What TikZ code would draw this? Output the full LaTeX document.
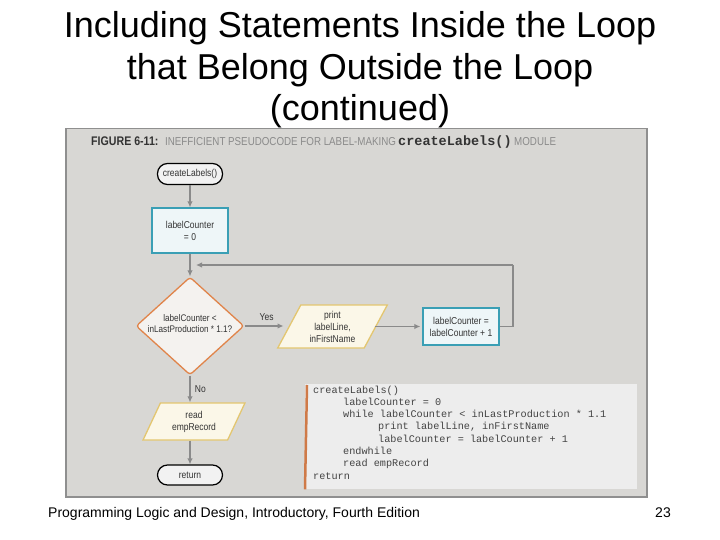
\documentclass[tikz,border=0pt]{standalone}
\usepackage{fontspec}
\setmainfont{Liberation Sans}
\setmonofont{Liberation Mono}
\newfontfamily\cond[FakeStretch=0.85]{Liberation Sans}
\usetikzlibrary{shapes.geometric,arrows.meta}
\definecolor{figbg}{HTML}{D8D7D4}
\definecolor{figedge}{HTML}{8F8F8F}
\definecolor{arrowgray}{HTML}{8A8A8A}
\definecolor{txtdark}{HTML}{333333}
\definecolor{codetxt}{HTML}{444444}
\definecolor{tealedge}{HTML}{3A9FB5}
\definecolor{tealfill}{HTML}{EEF6F8}
\definecolor{orangeedge}{HTML}{E0844A}
\definecolor{decfill}{HTML}{F4F2EF}
\definecolor{yellowedge}{HTML}{E3C670}
\definecolor{ioFill}{HTML}{FBF7E8}
\definecolor{codefill}{HTML}{EDEDED}
\definecolor{codebar}{HTML}{CF7A48}
\definecolor{capgray}{HTML}{8A8A8A}
\tikzset{
  flowtext/.style={font=\cond\fontsize{10}{12}\selectfont, text=txtdark, align=center},
  term/.style={flowtext, draw=black, line width=1.2pt, fill=white!95!black,
    rounded corners=10pt, minimum width=65pt, minimum height=21pt, inner sep=0pt},
  proc/.style={flowtext, draw=tealedge, line width=1.3pt, fill=tealfill, inner sep=0pt},
  dec/.style={draw=orangeedge, line width=1.3pt, fill=decfill, diamond, inner sep=0pt,
    rounded corners=3pt},
  io/.style={flowtext, draw=yellowedge, line width=1.3pt, fill=ioFill, trapezium,
    trapezium left angle=62, trapezium right angle=118, trapezium stretches=true, inner sep=0pt},
  arr/.style={draw=arrowgray, line width=1.2pt, -{Latex[length=6pt,width=5.5pt]}},
  lineonly/.style={draw=arrowgray, line width=1.2pt},
  codeline/.style={font=\ttfamily\fontsize{10.2}{12}\selectfont, text=codetxt, anchor=base west, inner sep=0pt},
  titleline/.style={font=\fontsize{36}{42}\selectfont, text=black, anchor=base, inner sep=0pt},
  footer/.style={font=\fontsize{14}{16}\selectfont, text=black, inner sep=0pt}
}
\begin{document}
\begin{tikzpicture}[x=1pt,y=-1pt]
\useasboundingbox (0,0) rectangle (720,540);
\fill[white] (0,0) rectangle (720,540);
% title
\node[titleline] (t1) at (360,38) {Including Statements Inside the Loop};
\node[titleline] (t2) at (360,80) {that Belong Outside the Loop};
\node[titleline] (t3) at (360,121) {(continued)};
% figure background
\node[draw=figedge, line width=1.5pt, fill=figbg, minimum width=581pt, minimum height=368pt,
  inner sep=0pt, anchor=north west] (fig) at (65,128) {};
% caption
\node[font=\cond\bfseries\fontsize{12.5}{14}\selectfont, text=txtdark, anchor=base west, inner sep=0pt] (capA) at (91,146) {FIGURE 6-11:};
\node[font=\cond\fontsize{11.5}{14}\selectfont, text=capgray, anchor=base west, inner sep=0pt] (capB) at (165,146) {INEFFICIENT PSEUDOCODE FOR LABEL-MAKING};
\node[font=\ttfamily\bfseries\fontsize{13.5}{14}\selectfont, text=txtdark, anchor=base west, inner sep=0pt] (capC) at (398,146) {createLabels()};
\node[font=\cond\fontsize{11.5}{14}\selectfont, text=capgray, anchor=base west, inner sep=0pt] (capD) at (514,146) {MODULE};
% flowchart
\node[term] (start) at (190,174) {createLabels()};
\node[proc, minimum width=76pt, minimum height=45pt] (init) at (190,230.5) {labelCounter\\= 0};
\node[dec, minimum width=108pt, minimum height=98pt] (cond) at (190,326) {};
\node[flowtext, font=\cond\fontsize{9.6}{11}\selectfont] (condtxt) at (190,324) {labelCounter <\\inLastProduction * 1.1?};
\node[io, minimum width=110pt, minimum height=43pt] (print) at (332.5,326.5) {print\\labelLine,\\inFirstName};
\node[proc, minimum width=76pt, minimum height=37pt] (inc) at (461,326.5) {labelCounter =\\labelCounter + 1};
\node[io, minimum width=102pt, minimum height=37pt] (read) at (194,421.5) {read\\empRecord};
\node[term, minimum height=20pt] (ret) at (190,475) {return};
\coordinate (looptop) at (513,265);
\coordinate (loopend) at (196,265);
% connectors
\draw[arr] (start) -- (init);
\draw[arr] (init) -- (cond);
\draw[arr, shorten >=5pt] (cond.east) -- (cond.east -| print.west) node[midway, above=1pt, flowtext] (yes) {Yes};
\draw[arr, shorten <=-2pt, shorten >=2pt] (print.east |- inc.west) -- (inc.west);
\draw[lineonly] (inc.east) -| (looptop);
\draw[arr] (looptop) -- (loopend);
\draw[arr] (cond.south) -- (cond.south |- read.north) node[midway, right=1pt, flowtext] (no) {No};
\draw[arr] (read.south -| ret.north) -- (ret.north);
% code box
\node[fill=codefill, minimum width=332pt, minimum height=105pt, inner sep=0pt, anchor=north west] (code) at (305,384) {};
\draw[codebar, line width=2.5pt] (code.north west) ++(2,1) coordinate (barA) -- (code.south west) ++(2,-1) coordinate (barB);
\node[codeline] (c1) at (313,393) {createLabels()};
\node[codeline] (c2) at (343,405.3) {labelCounter = 0};
\node[codeline] (c3) at (343,417.6) {while labelCounter < inLastProduction * 1.1};
\node[codeline] (c4) at (378,429.9) {print labelLine, inFirstName};
\node[codeline] (c5) at (378,442.2) {labelCounter = labelCounter + 1};
\node[codeline] (c6) at (343,454.5) {endwhile};
\node[codeline] (c7) at (343,466.8) {read empRecord};
\node[codeline] (c8) at (313,479.1) {return};
% footer
\node[footer, anchor=base west] (foot) at (48,517) {Programming Logic and Design, Introductory, Fourth Edition};
\node[footer, anchor=base east] (page) at (671,517) {23};
\end{tikzpicture}
\end{document}
